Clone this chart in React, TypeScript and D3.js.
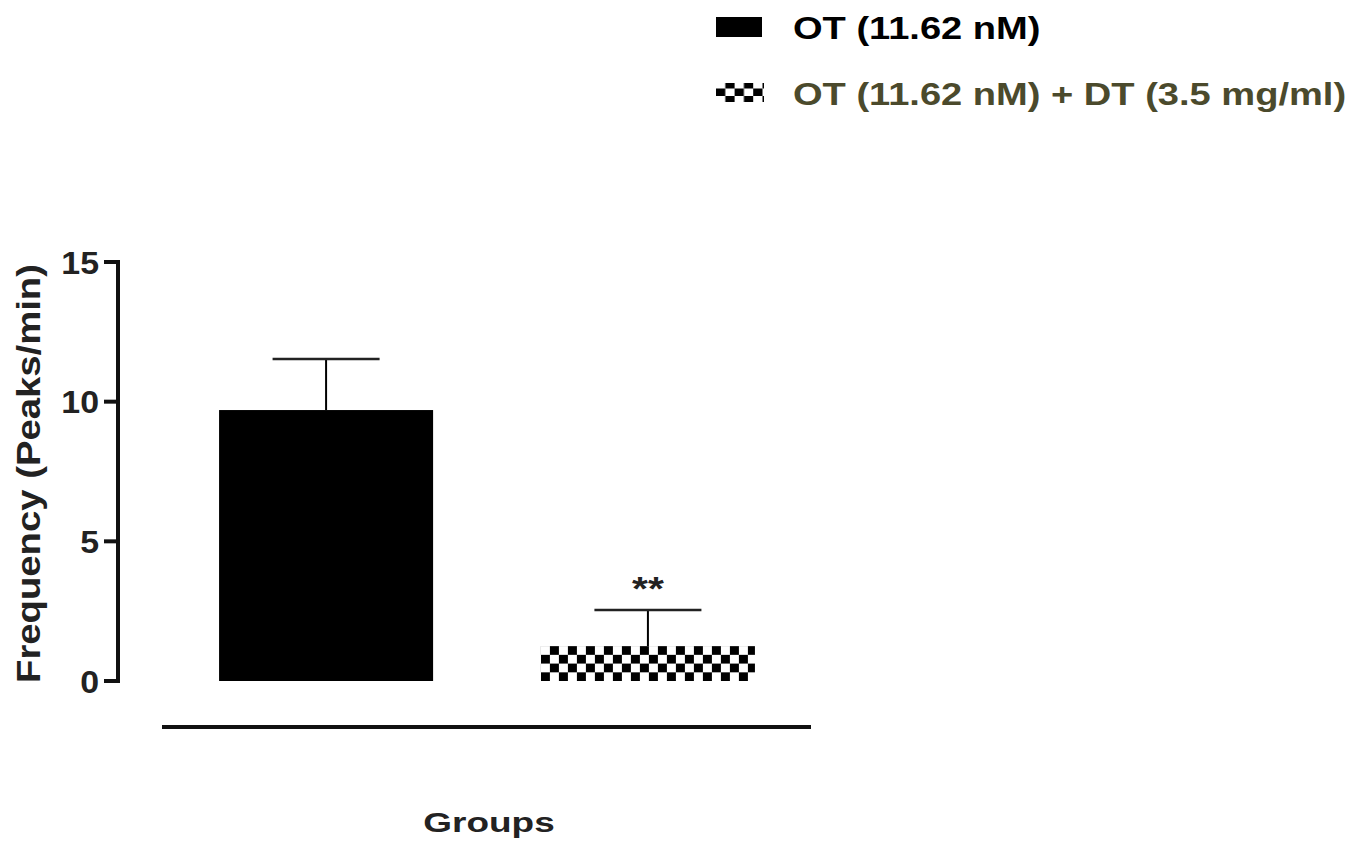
import React from "react";
import * as d3 from "d3";

const groups = ["OT (11.62 nM)", "OT (11.62 nM) + DT (3.5 mg/ml)"];
const means = [9.7, 1.25];
const errors = [1.83, 1.29];
const significance = ["", "**"];
const yTicks = [0, 5, 10, 15];
const legendColors = ["#000000", "#4b4a2c"];

const W = 1370;
const H = 848;
const FONT = "'Liberation Sans', Arial, Helvetica, sans-serif";

function SText(props: {
  x: number;
  y: number;
  size: number;
  sx: number;
  anchor?: string;
  fill?: string;
  rotate?: number;
  children: React.ReactNode;
}) {
  const { x, y, size, sx, anchor = "start", fill = "#222", rotate = 0, children } = props;
  return (
    <text
      transform={`translate(${x},${y}) rotate(${rotate}) scale(${sx},1)`}
      textAnchor={anchor}
      fontFamily={FONT}
      fontWeight="bold"
      fontSize={size}
      fill={fill}
    >
      {children}
    </text>
  );
}

export default function App() {
  const y = d3.scaleLinear().domain([0, 15]).range([681, 262]);
  const x = d3
    .scaleBand<string>()
    .domain(groups)
    .range([165, 809])
    .paddingInner(0.335)
    .paddingOuter(0.168);
  const bw = x.bandwidth();
  const x1 = x(groups[1])!;
  return (
    <svg width={W} height={H} style={{ position: "absolute", left: 0, top: 0, background: "#fff" }}>
      <defs>
        <pattern id="checker" patternUnits="userSpaceOnUse" width={18} height={17.5} x={x1} y={y(means[1])}>
          <rect x={0} y={0} width={18} height={17.5} fill="#fff" />
          <rect x={0} y={8.75} width={9} height={8.75} fill="#000" />
          <rect x={9} y={0} width={9} height={8.75} fill="#000" />
        </pattern>
        <pattern id="checkerLegend" patternUnits="userSpaceOnUse" width={18.6} height={15} x={716} y={81}>
          <rect x={0} y={0} width={18.6} height={15} fill="#fff" />
          <rect x={0} y={7.5} width={9.3} height={7.5} fill="#000" />
          <rect x={9.3} y={0} width={9.3} height={7.5} fill="#000" />
        </pattern>
      </defs>

      {/* Bars */}
      {groups.map((g, i) => {
        const x0 = x(g)!;
        const cx = x0 + bw / 2;
        const top = y(means[i]);
        const etop = y(means[i] + errors[i]);
        return (
          <g key={g}>
            <line x1={cx} x2={cx} y1={top} y2={etop} stroke="#000" strokeWidth={2} />
            <line x1={cx - bw / 4} x2={cx + bw / 4} y1={etop} y2={etop} stroke="#222" strokeWidth={2.5} />
            <rect x={x0} y={top} width={bw} height={y(0) - top} fill={i === 0 ? "#000" : "url(#checker)"} />
            {significance[i] && (
              <SText x={cx} y={etop - 10} size={34} sx={1.2} anchor="middle">
                {significance[i]}
              </SText>
            )}
          </g>
        );
      })}

      {/* Y axis */}
      <line x1={118} x2={118} y1={y(15) - 2} y2={y(0) + 2} stroke="#111" strokeWidth={4} />
      {yTicks.map((t) => (
        <g key={t}>
          <line x1={104} x2={118} y1={y(t)} y2={y(t)} stroke="#111" strokeWidth={4} />
          <SText x={99} y={y(t) + 11.5} size={32} sx={1.06} anchor="end">
            {t}
          </SText>
        </g>
      ))}
      <SText x={40} y={(y(0) + y(15)) / 2 + 2} size={33} sx={1.16} anchor="middle" rotate={-90}>
        Frequency (Peaks/min)
      </SText>

      {/* X axis */}
      <line x1={162} x2={811} y1={727} y2={727} stroke="#111" strokeWidth={4} />
      <SText x={489} y={832} size={28} sx={1.32} anchor="middle">
        Groups
      </SText>

      {/* Legend */}
      <rect x={716} y={17} width={46} height={20} fill="#000" />
      <SText x={793} y={39} size={32} sx={1.19} fill={legendColors[0]}>
        {groups[0]}
      </SText>
      <rect x={716} y={83} width={48} height={19} fill="url(#checkerLegend)" />
      <SText x={793} y={105} size={32} sx={1.19} fill={legendColors[1]}>
        {groups[1]}
      </SText>
    </svg>
  );
}
